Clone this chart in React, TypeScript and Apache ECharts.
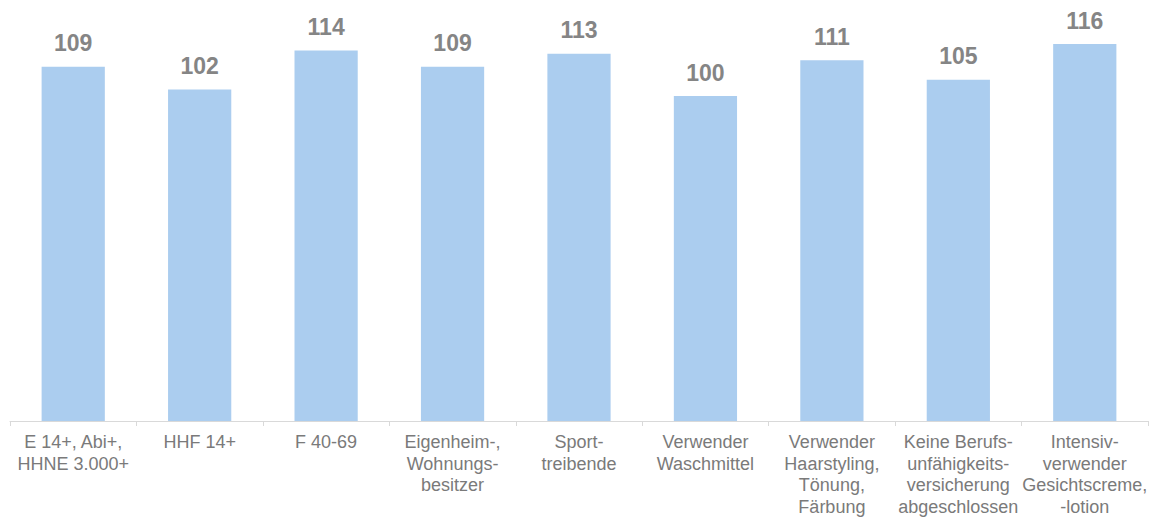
import React, { useEffect, useRef } from "react";
import * as echarts from "echarts";

const categories = [
  "E 14+, Abi+,\nHHNE 3.000+",
  "HHF 14+",
  "F 40-69",
  "Eigenheim-,\nWohnungs-\nbesitzer",
  "Sport-\ntreibende",
  "Verwender\nWaschmittel",
  "Verwender\nHaarstyling,\nTönung,\nFärbung",
  "Keine Berufs-\nunfähigkeits-\nversicherung\nabgeschlossen",
  "Intensiv-\nverwender\nGesichtscreme,\n-lotion",
];
const values = [109, 102, 114, 109, 113, 100, 111, 105, 116];

export default function App() {
  const ref = useRef<HTMLDivElement>(null);
  useEffect(() => {
    document.body.style.margin = "0";
    const chart = echarts.init(ref.current!, null, { renderer: "svg" });
    chart.setOption({
      animation: false,
      grid: { left: 10, right: 7, top: 31, bottom: 99, containLabel: false },
      xAxis: {
        type: "category",
        data: categories,
        axisLine: { lineStyle: { color: "#d9d9d9", width: 1 } },
        axisTick: { show: true, length: 5, lineStyle: { color: "#d9d9d9" } },
        axisLabel: {
          interval: 0,
          margin: 10,
          color: "#7a7a7a",
          fontFamily: "Liberation Sans, Arial, sans-serif",
          fontSize: 18,
          lineHeight: 21.7,
          align: "center",
        },
      },
      yAxis: {
        type: "value",
        min: 0,
        max: 120,
        show: false,
        splitLine: { show: false },
      },
      series: [
        {
          type: "bar",
          data: values,
          barCategoryGap: "50%",
          itemStyle: { color: "#abcdef" },
          label: {
            show: true,
            position: "top",
            distance: 12,
            color: "#858585",
            fontWeight: "bold",
            fontFamily: "Liberation Sans, Arial, sans-serif",
            fontSize: 23,
          },
        },
      ],
    });
    return () => chart.dispose();
  }, []);
  return <div ref={ref} style={{ width: 1155, height: 520 }} />;
}
